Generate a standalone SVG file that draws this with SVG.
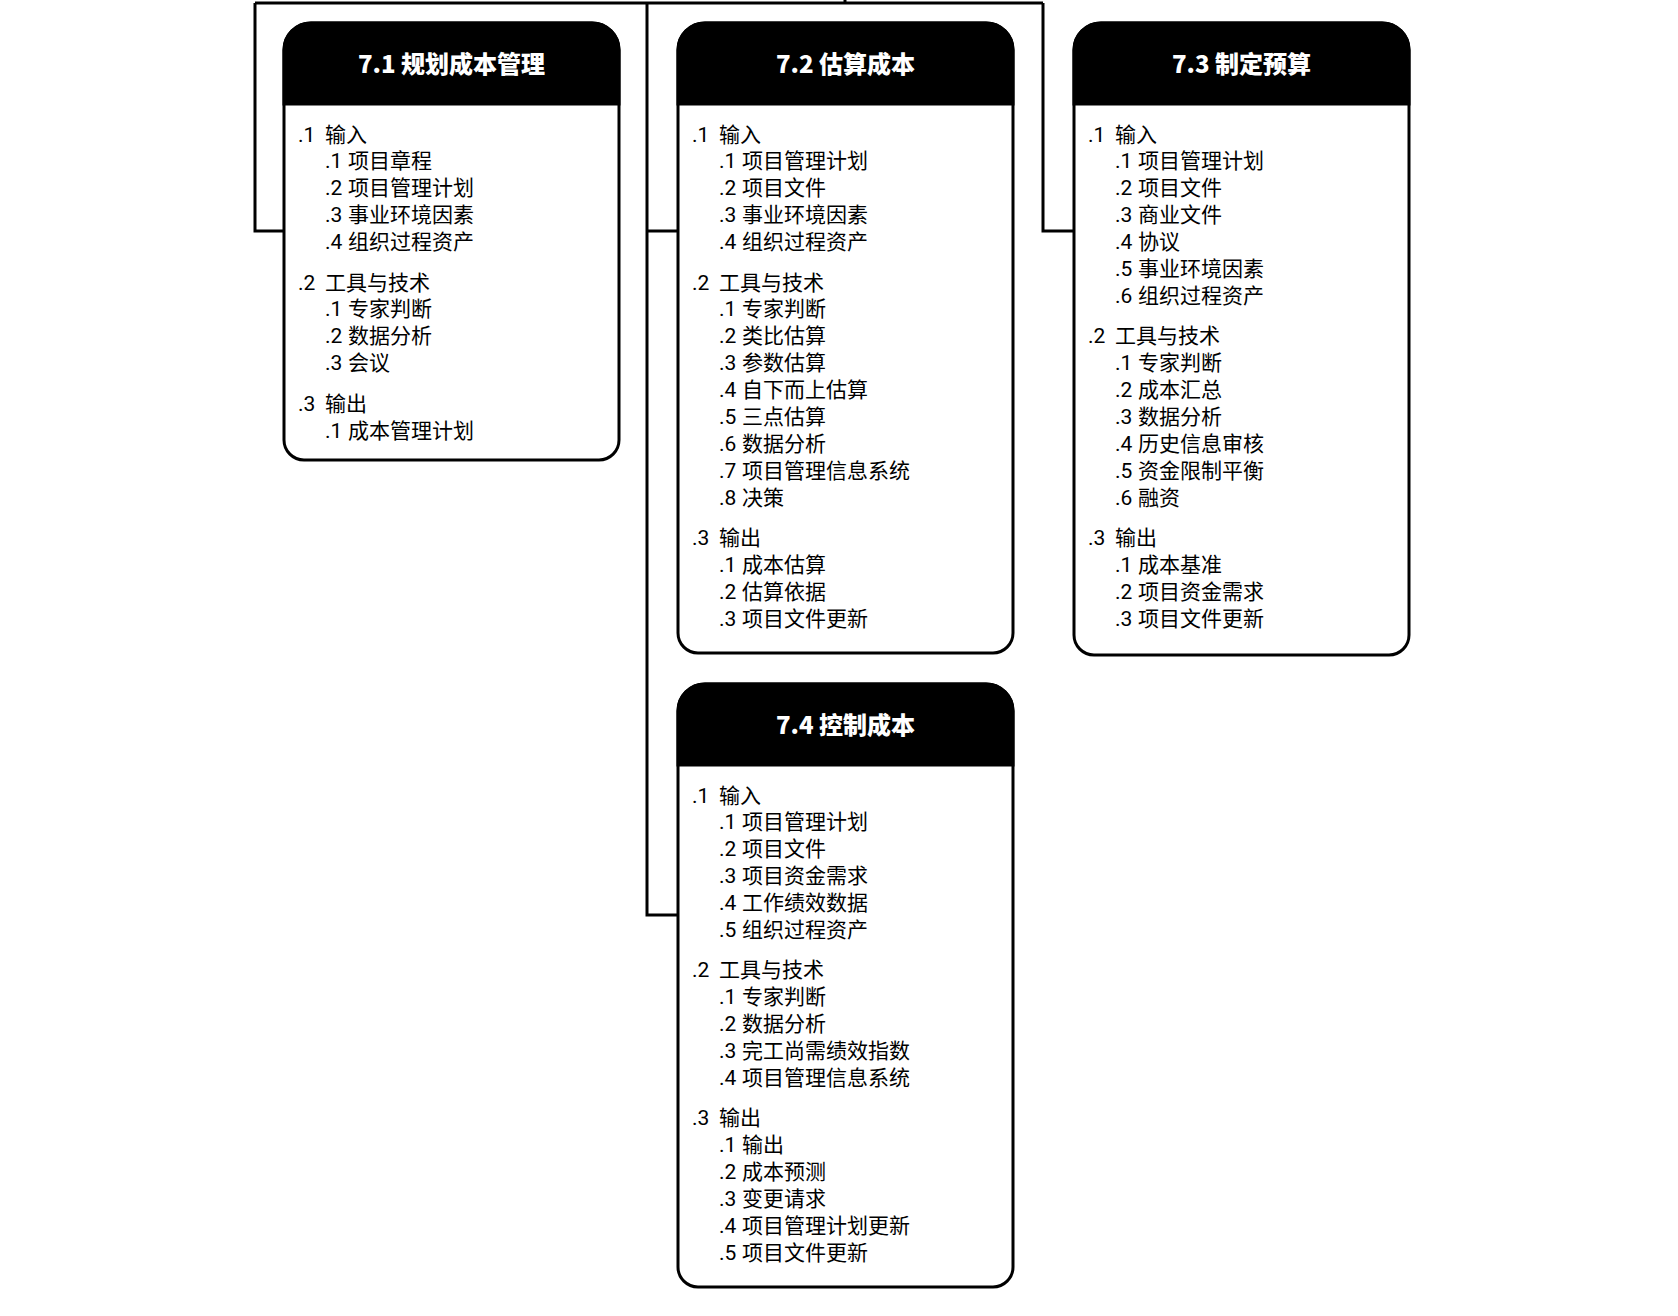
<svg xmlns="http://www.w3.org/2000/svg" width="1678" height="1316" viewBox="0 0 1678 1316">
<defs>
<style>
.box{fill:#fff;stroke:#000;stroke-width:3}
.hdr{fill:#000;stroke:#000;stroke-width:3}
.ttl{font-family:"Noto Sans CJK SC","Noto Sans",sans-serif;font-weight:900;font-size:24px;fill:#fff;text-anchor:middle}
.t{font-family:Roboto,"Noto Sans CJK SC",sans-serif;font-size:21px;fill:#000}
.conn{fill:none;stroke:#000;stroke-width:3}
</style>
</defs>
<rect width="1678" height="1316" fill="#fff"/>
<g id="connectors">
<path class="conn" d="M845,0 V3"/>
<path class="conn" d="M255,3 H1043"/>
<path class="conn" d="M255,3 V231 H283"/>
<path class="conn" d="M647,3 V915 H677"/>
<path class="conn" d="M647,231 H677"/>
<path class="conn" d="M1043,3 V231 H1073"/>
</g>
<g id="n71" transform="translate(284,23)">
<path class="box" d="M0,27 A27,27 0 0 1 27,0 H308 A27,27 0 0 1 335,27 V417 A20,20 0 0 1 315,437 H20 A20,20 0 0 1 0,417 Z"/>
<path class="hdr" d="M0,27 A27,27 0 0 1 27,0 H308 A27,27 0 0 1 335,27 V81 H0 Z"/>
<text class="ttl" x="167.5" y="50">7.1 规划成本管理</text>
<g transform="translate(0,-1)">
<text class="t"><tspan x="14" y="119.5">.1</tspan><tspan x="41" y="119.5">输入</tspan></text>
<text class="t"><tspan x="41" y="146.4">.1</tspan><tspan x="64" y="146.4">项目章程</tspan></text>
<text class="t"><tspan x="41" y="173.3">.2</tspan><tspan x="64" y="173.3">项目管理计划</tspan></text>
<text class="t"><tspan x="41" y="200.2">.3</tspan><tspan x="64" y="200.2">事业环境因素</tspan></text>
<text class="t"><tspan x="41" y="227.1">.4</tspan><tspan x="64" y="227.1">组织过程资产</tspan></text>
<text class="t"><tspan x="14" y="267.5">.2</tspan><tspan x="41" y="267.5">工具与技术</tspan></text>
<text class="t"><tspan x="41" y="294.4">.1</tspan><tspan x="64" y="294.4">专家判断</tspan></text>
<text class="t"><tspan x="41" y="321.3">.2</tspan><tspan x="64" y="321.3">数据分析</tspan></text>
<text class="t"><tspan x="41" y="348.2">.3</tspan><tspan x="64" y="348.2">会议</tspan></text>
<text class="t"><tspan x="14" y="388.6">.3</tspan><tspan x="41" y="388.6">输出</tspan></text>
<text class="t"><tspan x="41" y="415.5">.1</tspan><tspan x="64" y="415.5">成本管理计划</tspan></text>
</g>
</g>
<g id="n72" transform="translate(678,23)">
<path class="box" d="M0,27 A27,27 0 0 1 27,0 H308 A27,27 0 0 1 335,27 V610 A20,20 0 0 1 315,630 H20 A20,20 0 0 1 0,610 Z"/>
<path class="hdr" d="M0,27 A27,27 0 0 1 27,0 H308 A27,27 0 0 1 335,27 V81 H0 Z"/>
<text class="ttl" x="167.5" y="50">7.2 估算成本</text>
<g transform="translate(0,-1)">
<text class="t"><tspan x="14" y="119.5">.1</tspan><tspan x="41" y="119.5">输入</tspan></text>
<text class="t"><tspan x="41" y="146.4">.1</tspan><tspan x="64" y="146.4">项目管理计划</tspan></text>
<text class="t"><tspan x="41" y="173.3">.2</tspan><tspan x="64" y="173.3">项目文件</tspan></text>
<text class="t"><tspan x="41" y="200.2">.3</tspan><tspan x="64" y="200.2">事业环境因素</tspan></text>
<text class="t"><tspan x="41" y="227.1">.4</tspan><tspan x="64" y="227.1">组织过程资产</tspan></text>
<text class="t"><tspan x="14" y="267.5">.2</tspan><tspan x="41" y="267.5">工具与技术</tspan></text>
<text class="t"><tspan x="41" y="294.4">.1</tspan><tspan x="64" y="294.4">专家判断</tspan></text>
<text class="t"><tspan x="41" y="321.3">.2</tspan><tspan x="64" y="321.3">类比估算</tspan></text>
<text class="t"><tspan x="41" y="348.2">.3</tspan><tspan x="64" y="348.2">参数估算</tspan></text>
<text class="t"><tspan x="41" y="375.1">.4</tspan><tspan x="64" y="375.1">自下而上估算</tspan></text>
<text class="t"><tspan x="41" y="402">.5</tspan><tspan x="64" y="402">三点估算</tspan></text>
<text class="t"><tspan x="41" y="428.9">.6</tspan><tspan x="64" y="428.9">数据分析</tspan></text>
<text class="t"><tspan x="41" y="455.8">.7</tspan><tspan x="64" y="455.8">项目管理信息系统</tspan></text>
<text class="t"><tspan x="41" y="482.7">.8</tspan><tspan x="64" y="482.7">决策</tspan></text>
<text class="t"><tspan x="14" y="523.1">.3</tspan><tspan x="41" y="523.1">输出</tspan></text>
<text class="t"><tspan x="41" y="550">.1</tspan><tspan x="64" y="550">成本估算</tspan></text>
<text class="t"><tspan x="41" y="576.9">.2</tspan><tspan x="64" y="576.9">估算依据</tspan></text>
<text class="t"><tspan x="41" y="603.8">.3</tspan><tspan x="64" y="603.8">项目文件更新</tspan></text>
</g>
</g>
<g id="n73" transform="translate(1074,23)">
<path class="box" d="M0,27 A27,27 0 0 1 27,0 H308 A27,27 0 0 1 335,27 V612 A20,20 0 0 1 315,632 H20 A20,20 0 0 1 0,612 Z"/>
<path class="hdr" d="M0,27 A27,27 0 0 1 27,0 H308 A27,27 0 0 1 335,27 V81 H0 Z"/>
<text class="ttl" x="167.5" y="50">7.3 制定预算</text>
<g transform="translate(0,-1)">
<text class="t"><tspan x="14" y="119.5">.1</tspan><tspan x="41" y="119.5">输入</tspan></text>
<text class="t"><tspan x="41" y="146.4">.1</tspan><tspan x="64" y="146.4">项目管理计划</tspan></text>
<text class="t"><tspan x="41" y="173.3">.2</tspan><tspan x="64" y="173.3">项目文件</tspan></text>
<text class="t"><tspan x="41" y="200.2">.3</tspan><tspan x="64" y="200.2">商业文件</tspan></text>
<text class="t"><tspan x="41" y="227.1">.4</tspan><tspan x="64" y="227.1">协议</tspan></text>
<text class="t"><tspan x="41" y="254">.5</tspan><tspan x="64" y="254">事业环境因素</tspan></text>
<text class="t"><tspan x="41" y="280.9">.6</tspan><tspan x="64" y="280.9">组织过程资产</tspan></text>
<text class="t"><tspan x="14" y="321.3">.2</tspan><tspan x="41" y="321.3">工具与技术</tspan></text>
<text class="t"><tspan x="41" y="348.2">.1</tspan><tspan x="64" y="348.2">专家判断</tspan></text>
<text class="t"><tspan x="41" y="375.1">.2</tspan><tspan x="64" y="375.1">成本汇总</tspan></text>
<text class="t"><tspan x="41" y="402">.3</tspan><tspan x="64" y="402">数据分析</tspan></text>
<text class="t"><tspan x="41" y="428.9">.4</tspan><tspan x="64" y="428.9">历史信息审核</tspan></text>
<text class="t"><tspan x="41" y="455.8">.5</tspan><tspan x="64" y="455.8">资金限制平衡</tspan></text>
<text class="t"><tspan x="41" y="482.7">.6</tspan><tspan x="64" y="482.7">融资</tspan></text>
<text class="t"><tspan x="14" y="523.1">.3</tspan><tspan x="41" y="523.1">输出</tspan></text>
<text class="t"><tspan x="41" y="550">.1</tspan><tspan x="64" y="550">成本基准</tspan></text>
<text class="t"><tspan x="41" y="576.9">.2</tspan><tspan x="64" y="576.9">项目资金需求</tspan></text>
<text class="t"><tspan x="41" y="603.8">.3</tspan><tspan x="64" y="603.8">项目文件更新</tspan></text>
</g>
</g>
<g id="n74" transform="translate(678,684)">
<path class="box" d="M0,27 A27,27 0 0 1 27,0 H308 A27,27 0 0 1 335,27 V583 A20,20 0 0 1 315,603 H20 A20,20 0 0 1 0,583 Z"/>
<path class="hdr" d="M0,27 A27,27 0 0 1 27,0 H308 A27,27 0 0 1 335,27 V81 H0 Z"/>
<text class="ttl" x="167.5" y="50">7.4 控制成本</text>
<g transform="translate(0,-1)">
<text class="t"><tspan x="14" y="119.5">.1</tspan><tspan x="41" y="119.5">输入</tspan></text>
<text class="t"><tspan x="41" y="146.4">.1</tspan><tspan x="64" y="146.4">项目管理计划</tspan></text>
<text class="t"><tspan x="41" y="173.3">.2</tspan><tspan x="64" y="173.3">项目文件</tspan></text>
<text class="t"><tspan x="41" y="200.2">.3</tspan><tspan x="64" y="200.2">项目资金需求</tspan></text>
<text class="t"><tspan x="41" y="227.1">.4</tspan><tspan x="64" y="227.1">工作绩效数据</tspan></text>
<text class="t"><tspan x="41" y="254">.5</tspan><tspan x="64" y="254">组织过程资产</tspan></text>
<text class="t"><tspan x="14" y="294.4">.2</tspan><tspan x="41" y="294.4">工具与技术</tspan></text>
<text class="t"><tspan x="41" y="321.3">.1</tspan><tspan x="64" y="321.3">专家判断</tspan></text>
<text class="t"><tspan x="41" y="348.2">.2</tspan><tspan x="64" y="348.2">数据分析</tspan></text>
<text class="t"><tspan x="41" y="375.1">.3</tspan><tspan x="64" y="375.1">完工尚需绩效指数</tspan></text>
<text class="t"><tspan x="41" y="402">.4</tspan><tspan x="64" y="402">项目管理信息系统</tspan></text>
<text class="t"><tspan x="14" y="442.4">.3</tspan><tspan x="41" y="442.4">输出</tspan></text>
<text class="t"><tspan x="41" y="469.3">.1</tspan><tspan x="64" y="469.3">输出</tspan></text>
<text class="t"><tspan x="41" y="496.2">.2</tspan><tspan x="64" y="496.2">成本预测</tspan></text>
<text class="t"><tspan x="41" y="523.1">.3</tspan><tspan x="64" y="523.1">变更请求</tspan></text>
<text class="t"><tspan x="41" y="550">.4</tspan><tspan x="64" y="550">项目管理计划更新</tspan></text>
<text class="t"><tspan x="41" y="576.9">.5</tspan><tspan x="64" y="576.9">项目文件更新</tspan></text>
</g>
</g>
</svg>
